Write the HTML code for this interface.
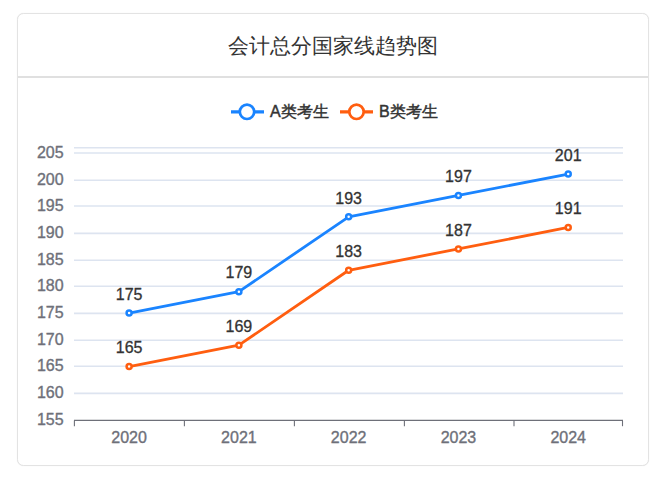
<!DOCTYPE html>
<html><head><meta charset="utf-8"><style>
html,body{margin:0;padding:0;background:#fff;width:670px;height:478px;overflow:hidden;position:relative}
.card{position:absolute;left:17px;top:13px;width:630px;height:451px;border:1px solid #e3e3e3;border-radius:6.5px;background:#fff;box-shadow:0 0 1px rgba(0,0,0,.10)}
.hd{position:absolute;left:0;top:0;width:630px;height:62px;border-bottom:2px solid #e0e0e0}
.title{position:absolute;left:0;top:0;width:630px;text-align:center;font:21px/64px "Liberation Sans",sans-serif;color:#333}
</style></head><body>
<div class="card"><div class="hd"></div><div class="title">会计总分国家线趋势图</div></div>
<svg width="670" height="478" viewBox="0 0 670 478" style="position:absolute;left:0;top:0">
<style>
.ax{font:16px "Liberation Sans",sans-serif;fill:#6e7079;stroke:#6e7079;stroke-width:0.35px}
.dl{font:16px "Liberation Sans",sans-serif;fill:#333;stroke:#333;stroke-width:0.3px}
.lg{font:16px "Liberation Sans",sans-serif;fill:#333;stroke:#333;stroke-width:0.45px}
</style>
<line x1="74" x2="623" y1="147.74" y2="147.74" stroke="#dde4f0" stroke-width="1.6"/>
<line x1="74" x2="623" y1="152.97" y2="152.97" stroke="#dde4f0" stroke-width="1.6"/>
<line x1="74" x2="623" y1="180.25" y2="180.25" stroke="#dde4f0" stroke-width="1.6"/>
<line x1="74" x2="623" y1="205.96" y2="205.96" stroke="#dde4f0" stroke-width="1.6"/>
<line x1="74" x2="623" y1="233.39" y2="233.39" stroke="#dde4f0" stroke-width="1.6"/>
<line x1="74" x2="623" y1="260.25" y2="260.25" stroke="#dde4f0" stroke-width="1.6"/>
<line x1="74" x2="623" y1="286.30" y2="286.30" stroke="#dde4f0" stroke-width="1.6"/>
<line x1="74" x2="623" y1="313.37" y2="313.37" stroke="#dde4f0" stroke-width="1.6"/>
<line x1="74" x2="623" y1="340.25" y2="340.25" stroke="#dde4f0" stroke-width="1.6"/>
<line x1="74" x2="623" y1="366.30" y2="366.30" stroke="#dde4f0" stroke-width="1.6"/>
<line x1="74" x2="623" y1="393.37" y2="393.37" stroke="#dde4f0" stroke-width="1.6"/>
<line x1="74" x2="623" y1="420.4" y2="420.4" stroke="#6e7079" stroke-width="1.1"/>
<line x1="74.40" x2="74.40" y1="420.4" y2="426.2" stroke="#6e7079" stroke-width="1.1"/>
<line x1="184.40" x2="184.40" y1="420.4" y2="426.2" stroke="#6e7079" stroke-width="1.1"/>
<line x1="294.40" x2="294.40" y1="420.4" y2="426.2" stroke="#6e7079" stroke-width="1.1"/>
<line x1="404.40" x2="404.40" y1="420.4" y2="426.2" stroke="#6e7079" stroke-width="1.1"/>
<line x1="514.00" x2="514.00" y1="420.4" y2="426.2" stroke="#6e7079" stroke-width="1.1"/>
<line x1="622.50" x2="622.50" y1="420.4" y2="426.2" stroke="#6e7079" stroke-width="1.1"/>
<text x="63.6" y="425.00" text-anchor="end" class="ax">155</text>
<text x="63.6" y="397.97" text-anchor="end" class="ax">160</text>
<text x="63.6" y="370.90" text-anchor="end" class="ax">165</text>
<text x="63.6" y="344.85" text-anchor="end" class="ax">170</text>
<text x="63.6" y="317.97" text-anchor="end" class="ax">175</text>
<text x="63.6" y="290.90" text-anchor="end" class="ax">180</text>
<text x="63.6" y="264.85" text-anchor="end" class="ax">185</text>
<text x="63.6" y="237.99" text-anchor="end" class="ax">190</text>
<text x="63.6" y="210.56" text-anchor="end" class="ax">195</text>
<text x="63.6" y="184.85" text-anchor="end" class="ax">200</text>
<text x="63.6" y="157.57" text-anchor="end" class="ax">205</text>
<text x="129.10" y="442.6" text-anchor="middle" class="ax">2020</text>
<text x="238.88" y="442.6" text-anchor="middle" class="ax">2021</text>
<text x="348.66" y="442.6" text-anchor="middle" class="ax">2022</text>
<text x="458.44" y="442.6" text-anchor="middle" class="ax">2023</text>
<text x="568.22" y="442.6" text-anchor="middle" class="ax">2024</text>
<polyline points="129.10,313.06 238.88,291.67 348.66,216.80 458.44,195.40 568.22,174.01" fill="none" stroke="#1a84ff" stroke-width="2.8" stroke-linejoin="round"/>
<circle cx="129.10" cy="313.06" r="2.5" fill="#fff" stroke="#1a84ff" stroke-width="2.5"/>
<circle cx="238.88" cy="291.67" r="2.5" fill="#fff" stroke="#1a84ff" stroke-width="2.5"/>
<circle cx="348.66" cy="216.80" r="2.5" fill="#fff" stroke="#1a84ff" stroke-width="2.5"/>
<circle cx="458.44" cy="195.40" r="2.5" fill="#fff" stroke="#1a84ff" stroke-width="2.5"/>
<circle cx="568.22" cy="174.01" r="2.5" fill="#fff" stroke="#1a84ff" stroke-width="2.5"/>
<text x="129.10" y="299.76" text-anchor="middle" class="dl">175</text>
<text x="238.88" y="278.37" text-anchor="middle" class="dl">179</text>
<text x="348.66" y="203.50" text-anchor="middle" class="dl">193</text>
<text x="458.44" y="182.10" text-anchor="middle" class="dl">197</text>
<text x="568.22" y="160.71" text-anchor="middle" class="dl">201</text>
<polyline points="129.10,366.54 238.88,345.15 348.66,270.28 458.44,248.88 568.22,227.49" fill="none" stroke="#ff5e10" stroke-width="2.8" stroke-linejoin="round"/>
<circle cx="129.10" cy="366.54" r="2.5" fill="#fff" stroke="#ff5e10" stroke-width="2.5"/>
<circle cx="238.88" cy="345.15" r="2.5" fill="#fff" stroke="#ff5e10" stroke-width="2.5"/>
<circle cx="348.66" cy="270.28" r="2.5" fill="#fff" stroke="#ff5e10" stroke-width="2.5"/>
<circle cx="458.44" cy="248.88" r="2.5" fill="#fff" stroke="#ff5e10" stroke-width="2.5"/>
<circle cx="568.22" cy="227.49" r="2.5" fill="#fff" stroke="#ff5e10" stroke-width="2.5"/>
<text x="129.10" y="353.24" text-anchor="middle" class="dl">165</text>
<text x="238.88" y="331.85" text-anchor="middle" class="dl">169</text>
<text x="348.66" y="256.98" text-anchor="middle" class="dl">183</text>
<text x="458.44" y="235.58" text-anchor="middle" class="dl">187</text>
<text x="568.22" y="214.19" text-anchor="middle" class="dl">191</text>
<line x1="231" x2="264" y1="111.8" y2="111.8" stroke="#1a84ff" stroke-width="3.3"/>
<circle cx="247" cy="111.8" r="7.2" fill="#fff" stroke="#1a84ff" stroke-width="2.7"/>
<text x="270" y="117" class="lg">A类考生</text>
<line x1="340" x2="373" y1="111.8" y2="111.8" stroke="#ff5e10" stroke-width="3.3"/>
<circle cx="356.5" cy="111.8" r="7.2" fill="#fff" stroke="#ff5e10" stroke-width="2.7"/>
<text x="379" y="117" class="lg">B类考生</text>
</svg>
</body></html>
